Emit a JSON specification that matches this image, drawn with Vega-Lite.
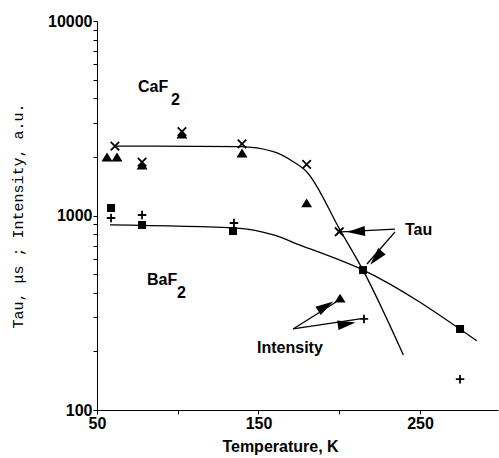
{
  "$schema": "https://vega.github.io/schema/vega-lite/v6.json",
  "autosize": {"type": "none"},
  "padding": {"left": 97, "top": 21, "right": 1, "bottom": 48},
  "width": 401,
  "height": 389,
  "background": "white",
  "config": {"view": {"stroke": null}},
  "resolve": {"scale": {"shape": "independent", "size": "independent"}},
  "datasets": {
    "pts": [
      {"T": 61.1, "v": 2276, "series": "CaF2 tau"},
      {"T": 77.9, "v": 1880, "series": "CaF2 tau"},
      {"T": 102.6, "v": 2700, "series": "CaF2 tau"},
      {"T": 139.8, "v": 2332, "series": "CaF2 tau"},
      {"T": 179.8, "v": 1833, "series": "CaF2 tau"},
      {"T": 200.0, "v": 825, "series": "CaF2 tau"},
      {"T": 56.2, "v": 1999, "series": "CaF2 int"},
      {"T": 62.4, "v": 1999, "series": "CaF2 int"},
      {"T": 77.9, "v": 1818, "series": "CaF2 int"},
      {"T": 102.6, "v": 2624, "series": "CaF2 int"},
      {"T": 139.8, "v": 2096, "series": "CaF2 int"},
      {"T": 179.8, "v": 1160, "series": "CaF2 int"},
      {"T": 200.5, "v": 376, "series": "CaF2 int"},
      {"T": 58.7, "v": 1093, "series": "BaF2 tau"},
      {"T": 77.9, "v": 894, "series": "BaF2 tau"},
      {"T": 134.2, "v": 832, "series": "BaF2 tau"},
      {"T": 214.7, "v": 524, "series": "BaF2 tau"},
      {"T": 274.8, "v": 261, "series": "BaF2 tau"},
      {"T": 58.7, "v": 971, "series": "BaF2 int"},
      {"T": 77.9, "v": 1006, "series": "BaF2 int"},
      {"T": 134.8, "v": 915, "series": "BaF2 int"},
      {"T": 215.3, "v": 294, "series": "BaF2 int"},
      {"T": 274.8, "v": 144, "series": "BaF2 int"}
    ],
    "fits": [
      {"T": 61.1, "v": 2276, "curve": "CaF2"},
      {"T": 138.5, "v": 2258, "curve": "CaF2"},
      {"T": 159.2, "v": 2128, "curve": "CaF2"},
      {"T": 171.5, "v": 1891, "curve": "CaF2"},
      {"T": 179.8, "v": 1680, "curve": "CaF2"},
      {"T": 200.5, "v": 842, "curve": "CaF2"},
      {"T": 214.7, "v": 524, "curve": "CaF2"},
      {"T": 239.7, "v": 192, "curve": "CaF2"},
      {"T": 58.0, "v": 894, "curve": "BaF2"},
      {"T": 138.5, "v": 859, "curve": "BaF2"},
      {"T": 159.2, "v": 794, "curve": "BaF2"},
      {"T": 175.7, "v": 705, "curve": "BaF2"},
      {"T": 214.9, "v": 524, "curve": "BaF2"},
      {"T": 285.1, "v": 227, "curve": "BaF2"}
    ],
    "arrows": [
      {"id": "tau1", "T": 234.5, "v": 852, "T2": 201.1, "v2": 823},
      {"id": "tau2", "T": 234.5, "v": 823, "T2": 217.2, "v2": 563},
      {"id": "int1", "T": 171.4, "v": 261, "T2": 198.0, "v2": 359},
      {"id": "int2", "T": 171.4, "v": 261, "T2": 212.8, "v2": 294}
    ],
    "heads": [
      {"id": "tau1", "T": 210.4, "v": 828},
      {"id": "tau2", "T": 222.8, "v": 605},
      {"id": "int1", "T": 191.6, "v": 342},
      {"id": "int2", "T": 204.6, "v": 277}
    ],
    "labels": [
      {"text": "CaF", "T": 75.4, "v": 4315},
      {"text": "2", "T": 95.8, "v": 3699},
      {"text": "BaF", "T": 81.0, "v": 439},
      {"text": "2", "T": 99.5, "v": 376},
      {"text": "Tau", "T": 240.7, "v": 794},
      {"text": "Intensity", "T": 149.1, "v": 196}
    ]
  },
  "encoding": {
    "x": {
      "field": "T", "type": "quantitative",
      "scale": {"domain": [50, 298.3], "nice": false, "zero": false},
      "axis": {
        "values": [50, 100, 150, 200, 250],
        "labelExpr": "datum.value == 100 || datum.value == 200 ? '' : datum.label",
        "grid": false, "domainColor": "black", "tickColor": "black", "tickSize": 4,
        "labelFont": "Liberation Sans", "labelFontWeight": "bold", "labelFontSize": 16, "labelColor": "black",
        "labelPadding": 1, "labelFlush": false,
        "title": "Temperature, K", "titleFont": "Liberation Sans", "titleFontWeight": "bold", "titleFontSize": 16,
        "titleColor": "black", "titleX": 183, "titleY": 41, "titleAlign": "center", "titleBaseline": "alphabetic"
      }
    },
    "y": {
      "field": "v", "type": "quantitative",
      "scale": {"type": "log", "domain": [100, 10000], "nice": false},
      "axis": {
        "values": [100, 200, 300, 400, 500, 600, 700, 800, 900, 1000, 2000, 3000, 4000, 5000, 6000, 7000, 8000, 9000, 10000],
        "labelExpr": "datum.value == 100 || datum.value == 1000 || datum.value == 10000 ? datum.value + '' : ''",
        "grid": false, "domainColor": "black", "tickColor": "black", "tickSize": 4,
        "labelFont": "Liberation Sans", "labelFontWeight": "bold", "labelFontSize": 16, "labelColor": "black",
        "labelPadding": 1, "labelFlush": false,
        "title": "Tau,  μs ; Intensity,  a.u.", "titleFont": "Liberation Mono", "titleFontWeight": "normal",
        "titleFontSize": 15, "titleColor": "black", "titleX": -80, "titleY": 194.5, "titleAngle": -90,
        "titleAlign": "center", "titleBaseline": "middle"
      }
    }
  },
  "layer": [
    {
      "mark": {"type": "rule", "color": "black", "strokeWidth": 1.5},
      "encoding": {"y": {"datum": 10000}, "x": null}
    },
    {
      "data": {"name": "fits"},
      "mark": {"type": "line", "color": "black", "strokeWidth": 1.3, "interpolate": "monotone"},
      "encoding": {"detail": {"field": "curve"}}
    },
    {
      "data": {"name": "arrows"},
      "mark": {"type": "rule", "color": "black", "strokeWidth": 1.3},
      "encoding": {"x2": {"field": "T2"}, "y2": {"field": "v2"}}
    },
    {
      "data": {"name": "heads"},
      "transform": [{"filter": "datum.id == 'tau1'"}],
      "mark": {"type": "point", "shape": "M1,0L-1,-0.55L-1,0.55Z", "size": 320, "filled": true, "color": "black", "opacity": 1, "angle": 177}
    },
    {
      "data": {"name": "heads"},
      "transform": [{"filter": "datum.id == 'tau2'"}],
      "mark": {"type": "point", "shape": "M1,0L-1,-0.55L-1,0.55Z", "size": 320, "filled": true, "color": "black", "opacity": 1, "angle": 131}
    },
    {
      "data": {"name": "heads"},
      "transform": [{"filter": "datum.id == 'int1'"}],
      "mark": {"type": "point", "shape": "M1,0L-1,-0.55L-1,0.55Z", "size": 320, "filled": true, "color": "black", "opacity": 1, "angle": 328}
    },
    {
      "data": {"name": "heads"},
      "transform": [{"filter": "datum.id == 'int2'"}],
      "mark": {"type": "point", "shape": "M1,0L-1,-0.55L-1,0.55Z", "size": 320, "filled": true, "color": "black", "opacity": 1, "angle": 351.5}
    },
    {
      "data": {"name": "pts"},
      "transform": [{"filter": "datum.series == 'CaF2 int' || datum.series == 'BaF2 tau'"}],
      "mark": {"type": "point", "filled": true, "color": "black", "opacity": 1},
      "encoding": {
        "shape": {"field": "series", "type": "nominal",
          "scale": {"domain": ["CaF2 int", "BaF2 tau"], "range": ["M0,-0.8L1,0.8L-1,0.8Z", "square"]}, "legend": null},
        "size": {"field": "series", "type": "nominal",
          "scale": {"domain": ["CaF2 int", "BaF2 tau"], "range": [121, 64]}, "legend": null}
      }
    },
    {
      "data": {"name": "pts"},
      "transform": [{"filter": "datum.series == 'CaF2 tau' || datum.series == 'BaF2 int'"}],
      "mark": {"type": "point", "filled": false, "color": "black", "opacity": 1, "strokeWidth": 1.8},
      "encoding": {
        "shape": {"field": "series", "type": "nominal",
          "scale": {"domain": ["CaF2 tau", "BaF2 int"], "range": ["M-1,-1L1,1M-1,1L1,-1", "M-1,0L1,0M0,-1L0,1"]}, "legend": null},
        "size": {"field": "series", "type": "nominal",
          "scale": {"domain": ["CaF2 tau", "BaF2 int"], "range": [72, 72]}, "legend": null}
      }
    },
    {
      "data": {"name": "labels"},
      "mark": {"type": "text", "align": "left", "baseline": "alphabetic", "font": "Liberation Sans", "fontWeight": "bold", "fontSize": 16, "color": "black"},
      "encoding": {"text": {"field": "text"}}
    }
  ]
}
